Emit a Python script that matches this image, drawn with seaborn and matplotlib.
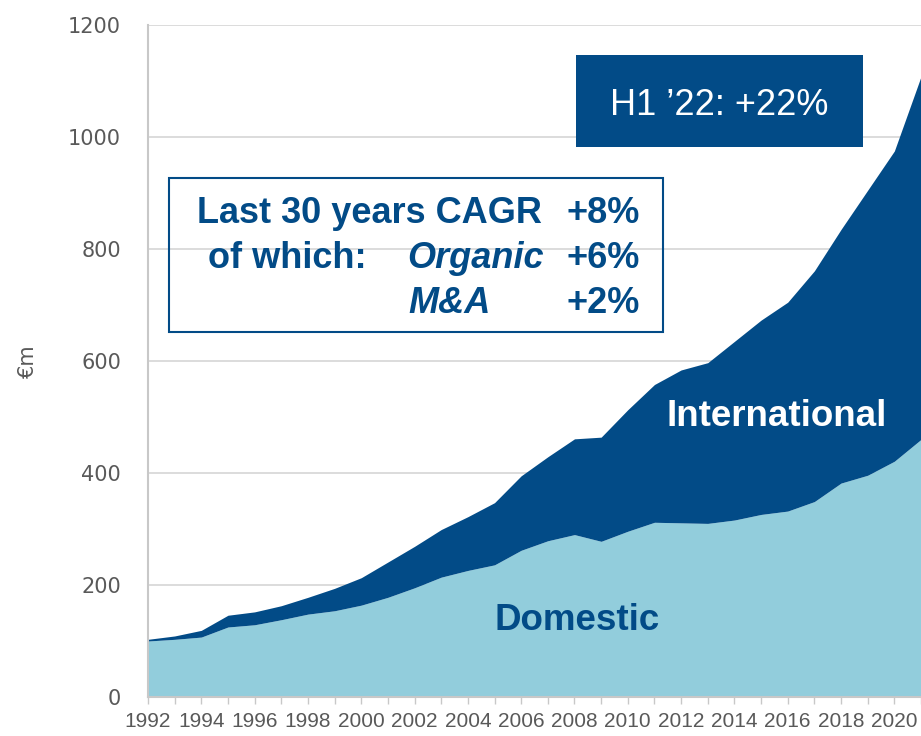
import pandas as pd
import seaborn as sns
import matplotlib.pyplot as plt
import matplotlib.patches as mpatches
from matplotlib.ticker import MultipleLocator

# Revenue split, EUR m
years = list(range(1992, 2022))
domestic = [100, 103, 107, 125, 129, 138, 148, 154, 164, 178,
            195, 214, 226, 236, 262, 279, 290, 278, 296, 312,
            311, 310, 316, 326, 332, 349, 382, 396, 421, 460]
international = [3, 6, 12, 21, 23, 25, 30, 40, 49, 63,
                 74, 85, 96, 111, 133, 150, 171, 186, 217, 246,
                 273, 287, 319, 347, 373, 412, 453, 509, 554, 648]
y_ticks = [0, 200, 400, 600, 800, 1000, 1200]

DARK = '#024B87'
LIGHT = '#92CDDC'
GREY_TXT = '#595959'
GREY_LINE = '#C8C8C8'
W, H = 921, 736

sns.set_theme(style='white')
plt.rcParams['font.family'] = ['Liberation Sans', 'DejaVu Sans']

df = pd.DataFrame({'year': years, 'Domestic': domestic, 'International': international})


def fx(px):
    return px / W


def fy(py):
    return 1 - py / H


fig = plt.figure(figsize=(W / 100, H / 100), dpi=100)
ax = fig.add_axes([fx(148), fy(697), (921 - 148) / W, (697 - 25) / H])

ax.stackplot(df['year'], df['Domestic'], df['International'],
             colors=[LIGHT, DARK], linewidth=0)

ax.set_xlim(1992, 2021)
ax.set_ylim(0, 1200)
ax.set_yticks(y_ticks)
ax.yaxis.grid(True, color='#D9D9D9', linewidth=1.3)
ax.set_axisbelow(True)

ax.xaxis.set_major_locator(MultipleLocator(2))
ax.xaxis.set_minor_locator(MultipleLocator(1))
ax.tick_params(axis='x', which='both', bottom=True, length=5, width=1,
               color=GREY_LINE, direction='out', pad=6)
ax.tick_params(axis='x', which='major', labelsize=15, labelcolor=GREY_TXT,
               labelfontfamily='Liberation Sans')
ax.tick_params(axis='y', left=False, length=0, pad=19.5, labelsize=15,
               labelcolor=GREY_TXT, labelfontfamily='DejaVu Sans')

sns.despine(ax=ax)
for side in ['left', 'bottom']:
    ax.spines[side].set_color(GREY_LINE)
    ax.spines[side].set_linewidth(1.5)

ax.set_ylabel('€m', fontsize=15, color=GREY_TXT, family='DejaVu Sans')
ax.yaxis.set_label_coords(-0.142, 0.5)

# series labels inside the areas
fig.text(fx(777), fy(426), 'International', color='white', fontsize=26.5,
         fontweight='bold', ha='center', va='baseline')
fig.text(fx(577), fy(630), 'Domestic', color=DARK, fontsize=26.5,
         fontweight='bold', ha='center', va='baseline')

# H1 '22 box
fig.add_artist(mpatches.Rectangle((fx(576), fy(147)), (863 - 576) / W, (147 - 55) / H,
                                  transform=fig.transFigure, facecolor=DARK, edgecolor='none'))
fig.text(fx(719), fy(115), 'H1 ’22: +22%', color='white', fontsize=26,
         ha='center', va='baseline')

# CAGR box
fig.add_artist(mpatches.Rectangle((fx(169), fy(332)), (663 - 169) / W, (332 - 178) / H,
                                  transform=fig.transFigure, fill=False,
                                  edgecolor=DARK, linewidth=1.5))
bold = dict(color=DARK, fontsize=26, fontweight='bold', va='baseline')
fig.text(fx(542), fy(223), 'Last 30 years CAGR', ha='right', **bold)
fig.text(fx(640), fy(223), '+8%', ha='right', **bold)
fig.text(fx(208), fy(268), 'of which:', ha='left', **bold)
fig.text(fx(407), fy(268), 'Organic', ha='left', style='italic', **bold)
fig.text(fx(640), fy(268), '+6%', ha='right', **bold)
fig.text(fx(408), fy(313), 'M&A', ha='left', style='italic', **bold)
fig.text(fx(640), fy(313), '+2%', ha='right', **bold)

fig.savefig('out.png', dpi=100)
